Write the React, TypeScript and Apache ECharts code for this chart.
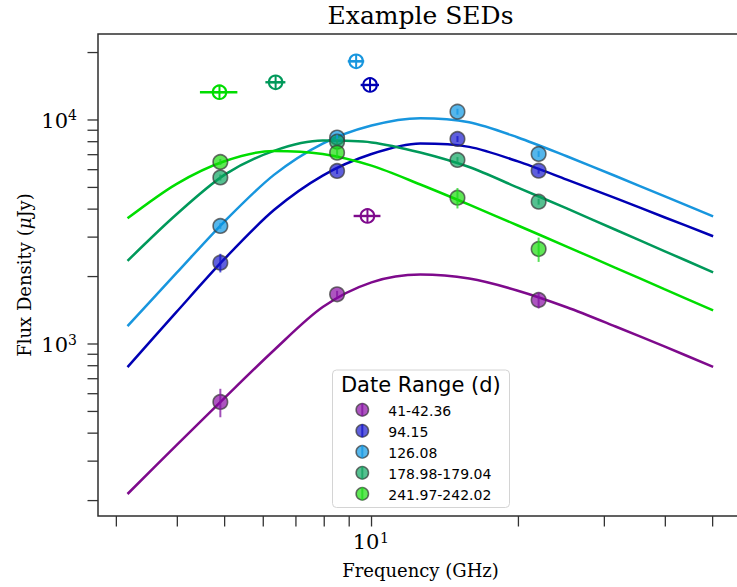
import React, { useEffect, useRef } from "react";
import * as echarts from "echarts";

// ---------- axis limits ----------
const X_MIN = 2.751; // GHz
const X_MAX = 57.57;
const Y_MIN = 170.7; // µJy
const Y_MAX = 24200;

// ---------- legend / epochs ----------
const epochLabels = ["41-42.36", "94.15", "126.08", "178.98-179.04", "241.97-242.02"];
const lineColors = ["#7E0A8C", "#0000B4", "#1896DE", "#00995A", "#00DD00"];
const fillColors = [
  "rgba(134,5,162,0.68)",
  "rgba(19,19,205,0.68)",
  "rgba(5,148,226,0.68)",
  "rgba(5,162,91,0.68)",
  "rgba(19,219,5,0.68)",
];
const errColors = [
  "rgba(130,20,160,0.75)",
  "rgba(20,20,200,0.75)",
  "rgba(20,150,225,0.75)",
  "rgba(20,160,95,0.75)",
  "rgba(30,215,30,0.75)",
];

// ---------- observed points ----------
const obsFreq = [4.9, 8.5, 15, 22];
const obsFlux41 = [551, 1667, null, 1572];
const obsErr41 = [80, 60, null, 130];
const obsFlux94 = [2307, 5920, 8226, 5938];
const obsErr94 = [220, 180, 250, 180];
const obsFlux126 = [3364, 8350, 10890, 7050];
const obsErr126 = [100, 250, 330, 210];
const obsFlux179 = [5538, 8000, 6629, 4318];
const obsErr179 = [170, 240, 200, 130];
const obsFlux242 = [6494, 7145, 4498, 2655];
const obsErr242 = [200, 400, 470, 330];

// ---------- model SED curves ----------
const modelFreq = [3.162, 3.981, 5.012, 6.31, 7.943, 10.0, 12.59, 15.85, 19.95, 25.12, 31.62, 39.81, 50.12];
const model41 = [214, 353, 578, 938, 1462, 1884, 2042, 1959, 1730, 1459, 1197, 975, 791];
const model94 = [789, 1387, 2415, 3963, 5649, 7047, 7852, 7586, 6531, 5420, 4477, 3681, 3027];
const model126 = [1202, 2070, 3548, 5689, 7852, 9441, 10186, 9772, 8356, 6887, 5623, 4571, 3715];
const model179 = [2350, 3784, 5715, 7278, 8091, 7943, 7161, 6166, 4989, 4027, 3236, 2600, 2089];
const model242 = [3639, 5176, 6561, 7278, 7047, 6252, 5152, 4188, 3381, 2723, 2188, 1758, 1413];

// ---------- peak estimates (circle-plus markers) ----------
const peakFreq = [9.81, 9.93, 9.3, 6.36, 4.88];
const peakFlux = [3728, 14330, 18280, 14735, 13300];
const peakFreqErr = [0.62, 0.43, 0.36, 0.3, 0.43];

// ---------- ticks ----------
const xMajorTicks = [10];
const xMinorTicks = [3, 4, 5, 6, 7, 8, 9, 20, 30, 40, 50];
const yMajorTicks = [1000, 10000];
const yMinorTicks = [200, 300, 400, 500, 600, 700, 800, 900, 2000, 3000, 4000, 5000, 6000, 7000, 8000, 9000, 20000];

const obsFluxes = [obsFlux41, obsFlux94, obsFlux126, obsFlux179, obsFlux242];
const obsErrs = [obsErr41, obsErr94, obsErr126, obsErr179, obsErr242];
const models = [model41, model94, model126, model179, model242];

const SERIF = "'DejaVu Serif', serif";
const SANS = "'DejaVu Sans', sans-serif";
const INK = "#333333";
const EDGE = "rgba(55,55,55,0.72)";

function txt(text: string, x: number, y: number, size: number, family: string, align: string, valign: string, extra: any = {}) {
  return {
    type: "text",
    x,
    y,
    style: {
      text,
      fontSize: size,
      fontFamily: family,
      fill: "#000",
      align,
      textAlign: align,
      verticalAlign: valign,
      textVerticalAlign: valign,
      ...extra,
    },
  };
}

export default function App() {
  const ref = useRef<HTMLDivElement>(null);

  useEffect(() => {
    if (!ref.current) return;
    const chart = echarts.init(ref.current, null, { renderer: "svg" });

    const series: any[] = [];

    // model curves
    models.forEach((m, i) => {
      series.push({
        type: "line",
        name: epochLabels[i],
        data: modelFreq.map((f, k) => [f, m[k]]),
        showSymbol: false,
        smooth: 0.3,
        lineStyle: { color: lineColors[i], width: 2.5 },
        z: 2,
        silent: true,
      });
    });

    // observed points
    obsFluxes.forEach((arr, i) => {
      const pts: any[] = [];
      const errs: any[] = [];
      arr.forEach((v, k) => {
        if (v == null) return;
        pts.push([obsFreq[k], v]);
        errs.push([obsFreq[k], v, obsErrs[i][k] as number]);
      });
      series.push({
        type: "scatter",
        data: pts,
        symbol: "circle",
        symbolSize: 14.5,
        itemStyle: { color: fillColors[i], borderColor: EDGE, borderWidth: 1.6, opacity: 1 },
        z: 3,
        silent: true,
      });
      series.push({
        type: "custom",
        data: errs,
        clip: false,
        silent: true,
        z: 4,
        renderItem: (_p: any, api: any) => {
          const f = api.value(0);
          const v = api.value(1);
          const e = api.value(2);
          const top = api.coord([f, v + e]);
          const bot = api.coord([f, v - e]);
          return {
            type: "line",
            shape: { x1: top[0], y1: top[1], x2: bot[0], y2: bot[1] },
            style: { stroke: errColors[i], lineWidth: 2 },
          };
        },
      });
    });

    // peak markers (circle with plus, horizontal error bar)
    series.push({
      type: "custom",
      data: peakFreq.map((f, i) => [f, peakFlux[i], peakFreqErr[i], i]),
      clip: false,
      silent: true,
      z: 6,
      renderItem: (_p: any, api: any) => {
        const f = api.value(0);
        const v = api.value(1);
        const e = api.value(2);
        const idx = api.value(3);
        const c = api.coord([f, v]);
        const l = api.coord([f - e, v]);
        const r = api.coord([f + e, v]);
        const col = lineColors[idx];
        const R = 6.8;
        return {
          type: "group",
          children: [
            { type: "line", shape: { x1: l[0], y1: c[1], x2: r[0], y2: c[1] }, style: { stroke: col, lineWidth: 2.4 } },
            { type: "circle", shape: { cx: c[0], cy: c[1], r: R }, style: { fill: "none", stroke: col, lineWidth: 2 } },
            { type: "line", shape: { x1: c[0], y1: c[1] - R, x2: c[0], y2: c[1] + R }, style: { stroke: col, lineWidth: 2 } },
            { type: "line", shape: { x1: c[0] - R, y1: c[1], x2: c[0] + R, y2: c[1] }, style: { stroke: col, lineWidth: 2 } },
          ],
        };
      },
    });

    // x ticks + labels
    series.push({
      type: "custom",
      data: [...xMajorTicks.map((v) => [v, Y_MIN, 1]), ...xMinorTicks.map((v) => [v, Y_MIN, 0])],
      clip: false,
      silent: true,
      z: 10,
      renderItem: (_p: any, api: any) => {
        const v = api.value(0);
        const major = api.value(2) === 1;
        const p = api.coord([v, Y_MIN]);
        const children: any[] = [
          { type: "line", shape: { x1: p[0], y1: p[1], x2: p[0], y2: p[1] + 10.5 }, style: { stroke: INK, lineWidth: 1.3 } },
        ];
        if (major) {
          const ex = String(Math.round(Math.log10(v)));
          children.push(txt("10", p[0] - 5.5, p[1] + 26, 21, SERIF, "center", "middle"));
          children.push(txt(ex, p[0] + 8.5, p[1] + 21.5, 14, SERIF, "left", "middle"));
        }
        return { type: "group", children };
      },
    });

    // y ticks + labels
    series.push({
      type: "custom",
      data: [...yMajorTicks.map((v) => [X_MIN, v, 1]), ...yMinorTicks.map((v) => [X_MIN, v, 0])],
      clip: false,
      silent: true,
      z: 10,
      renderItem: (_p: any, api: any) => {
        const v = api.value(1);
        const major = api.value(2) === 1;
        const p = api.coord([X_MIN, v]);
        const children: any[] = [
          { type: "line", shape: { x1: p[0] - 10.5, y1: p[1], x2: p[0], y2: p[1] }, style: { stroke: INK, lineWidth: 1.3 } },
        ];
        if (major) {
          const ex = String(Math.round(Math.log10(v)));
          children.push(txt("10", p[0] - 30, p[1] + 1, 21, SERIF, "right", "middle"));
          children.push(txt(ex, p[0] - 30, p[1] - 4.5, 14, SERIF, "left", "middle"));
        }
        return { type: "group", children };
      },
    });

    // legend (graphic)
    const legendChildren: any[] = [
      {
        type: "rect",
        shape: { x: 332.5, y: 370, width: 177, height: 137.5, r: 4 },
        style: { fill: "rgba(255,255,255,0.85)", stroke: "#d4d4d4", lineWidth: 1 },
      },
      txt("Date Range (d)", 420.8, 384.5, 21, SANS, "center", "middle"),
    ];
    epochLabels.forEach((lab, i) => {
      const cy = 409.8 + i * 21;
      legendChildren.push({
        type: "circle",
        shape: { cx: 362.3, cy, r: 6.2 },
        style: { fill: fillColors[i], stroke: EDGE, lineWidth: 1.5 },
      });
      legendChildren.push({
        type: "line",
        shape: { x1: 362.3, y1: cy - 6.6, x2: 362.3, y2: cy + 6.6 },
        style: { stroke: errColors[i], lineWidth: 2 },
      });
      legendChildren.push(txt(lab, 388.3, 410.5 + i * 21.1, 14, SANS, "left", "middle"));
    });

    const graphic: any[] = [
      txt("Example SEDs", 420.5, 15.5, 25, SERIF, "center", "middle"),
      txt("Frequency (GHz)", 420.5, 570, 18, SERIF, "center", "middle"),
      {
        type: "text",
        x: 24,
        y: 275,
        rotation: Math.PI / 2,
        style: {
          text: "{a|Flux Density (}{b|μ}{a|Jy)}",
          align: "center",
          textAlign: "center",
          verticalAlign: "middle",
          textVerticalAlign: "middle",
          rich: {
            a: { fontFamily: SERIF, fontSize: 18, fill: "#000" },
            b: { fontFamily: SERIF, fontSize: 18, fontStyle: "italic", fill: "#000" },
          },
        },
      },
      { type: "group", z: 100, children: legendChildren },
    ];

    chart.setOption({
      animation: false,
      backgroundColor: "#ffffff",
      grid: {
        left: 98,
        top: 34,
        width: 644.5,
        height: 482,
        show: true,
        borderColor: "#2e2e2e",
        borderWidth: 1.5,
        backgroundColor: "transparent",
        containLabel: false,
      },
      xAxis: {
        type: "log",
        logBase: 10,
        min: X_MIN,
        max: X_MAX,
        axisLine: { show: false },
        axisTick: { show: false },
        axisLabel: { show: false },
        splitLine: { show: false },
        minorTick: { show: false },
      },
      yAxis: {
        type: "log",
        logBase: 10,
        min: Y_MIN,
        max: Y_MAX,
        axisLine: { show: false },
        axisTick: { show: false },
        axisLabel: { show: false },
        splitLine: { show: false },
        minorTick: { show: false },
      },
      series,
      graphic,
    });

    return () => chart.dispose();
  }, []);

  return (
    <div
      style={{
        position: "fixed",
        left: 0,
        top: 0,
        width: 737,
        height: 587,
        overflow: "hidden",
        background: "#fff",
      }}
    >
      <div ref={ref} style={{ width: 750, height: 587 }} />
    </div>
  );
}
